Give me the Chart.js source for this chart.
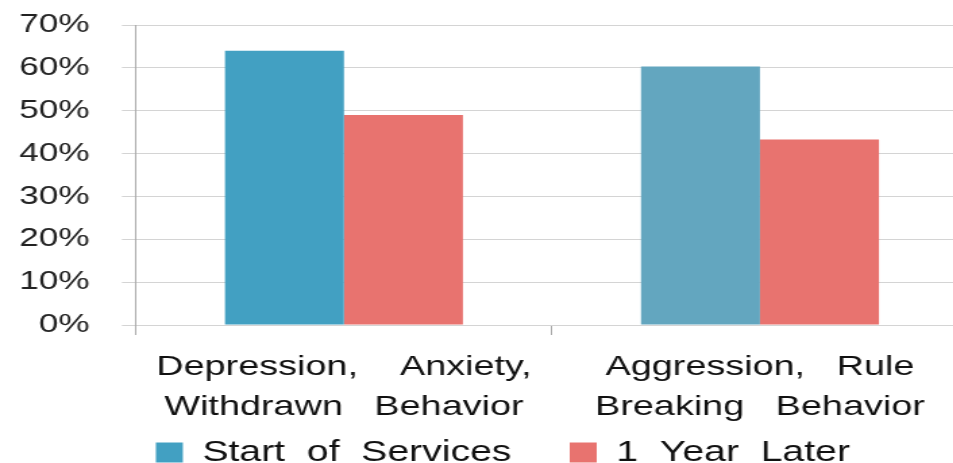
<!DOCTYPE html>
<html>
<head>
<meta charset="utf-8">
<script src="https://cdn.jsdelivr.net/npm/chart.js@4"></script>
<style>
  html, body { margin: 0; padding: 0; background: #fff; overflow: hidden; width: 953px; height: 463px; }
  /* the reference is horizontally stretched, so draw narrow and stretch */
  #wrap { width: 722px; height: 463px; position: relative; transform: scaleX(1.35); transform-origin: 0 0; }
</style>
</head>
<body>
<div id="wrap"><canvas id="outcomeChart"></canvas></div>
<script>
// === data ===
const categories = [
    ['Depression,    Anxiety,', 'Withdrawn   Behavior'],
    ['Aggression,   Rule', 'Breaking   Behavior']
];
const seriesNames = ['Start  of  Services', '1  Year  Later'];
const startOfServices = [64, 60.3];
const oneYearLater = [49, 43.3];
const yTicks = [0, 10, 20, 30, 40, 50, 60, 70];

// legend sits a bit right of the canvas centre in the original
const nudgeLegend = {
    id: 'nudgeLegend',
    afterLayout: (chart) => { if (chart.legend) chart.legend.left += 18; }
};

const ctx = document.getElementById('outcomeChart');
new Chart(ctx, {
    type: 'bar',
    data: {
        labels: categories,
        datasets: [
            {
                label: seriesNames[0] + '    ',
                data: startOfServices,
                backgroundColor: ['#42a0c2', '#63a6bf'],
                categoryPercentage: 0.572,
                barPercentage: 1.0
            },
            {
                label: seriesNames[1],
                data: oneYearLater,
                backgroundColor: '#e8736f',
                categoryPercentage: 0.572,
                barPercentage: 1.0
            }
        ]
    },
    options: {
        responsive: true,
        maintainAspectRatio: false,
        animation: false,
        layout: { padding: { left: 10, top: 25, right: 5, bottom: -14 } },
        scales: {
            x: {
                grid: { display: true, drawOnChartArea: false, offset: true, tickLength: 10, color: '#aaa' },
                border: { display: false },
                ticks: {
                    color: '#111',
                    font: { family: 'Liberation Sans', size: 28, lineHeight: 1.43 },
                    padding: 12
                },
                afterFit: (scale) => {
                    scale.paddingLeft = 0;
                    scale.paddingRight = 0;
                    scale.height = 102;
                }
            },
            y: {
                min: 0, max: 70,
                afterBuildTicks: (axis) => { axis.ticks = yTicks.map(v => ({ value: v })); },
                grid: { color: '#d4d4d4', tickLength: 10.4 },
                border: { color: '#aaa' },
                ticks: {
                    color: '#222',
                    font: { family: 'Liberation Sans', size: 26 },
                    padding: 24,
                    callback: (v) => v + '%'
                },
                afterFit: (scale) => {
                    scale.paddingTop = 0;
                    scale.paddingBottom = 0;
                    scale.width = 90.7;
                }
            }
        },
        plugins: {
            legend: {
                position: 'bottom',
                labels: {
                    color: '#111',
                    font: { family: 'Liberation Sans', size: 29 },
                    boxWidth: 20, boxHeight: 20,
                    padding: 11
                }
            },
            tooltip: { enabled: false }
        }
    },
    plugins: [nudgeLegend]
});
</script>
</body>
</html>
